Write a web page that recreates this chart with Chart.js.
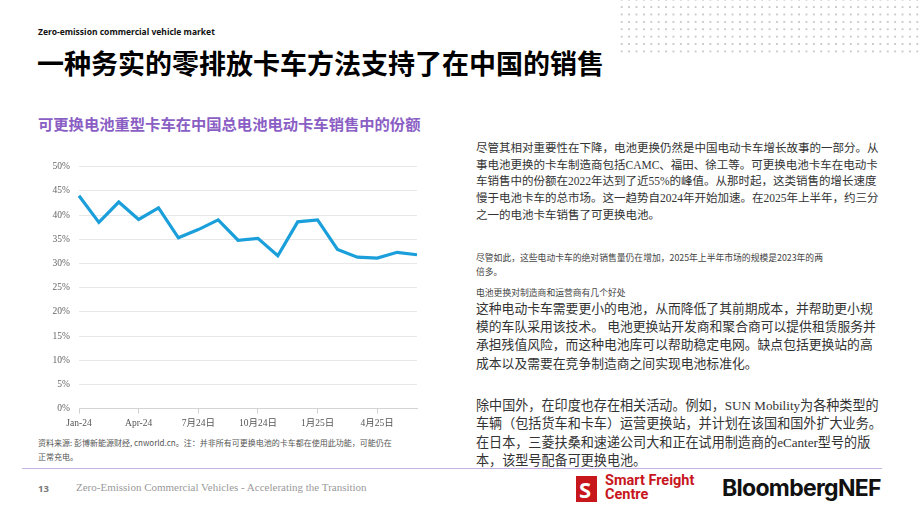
<!DOCTYPE html>
<html>
<head>
<meta charset="utf-8">
<script src="https://cdn.jsdelivr.net/npm/chart.js@4"></script>
<style>
  body { margin: 0; width: 920px; height: 518px; background: #fff; position: relative; overflow: hidden;
         font-family: "Noto Sans CJK SC", "Noto Sans", sans-serif; }
  .abs { position: absolute; white-space: nowrap; }
  .dots { position: absolute; left: 618px; top: -4px; width: 304px; height: 60px;
          background-image: radial-gradient(circle, #c8c8c8 0.8px, transparent 1.2px);
          background-size: 7.4px 7.4px; }
  .serif { font-family: "Liberation Serif", "Noto Sans CJK SC", serif; }
  .para { position: absolute; left: 476px; width: 410px; color: #333; }
</style>
</head>
<body>
<div class="dots"></div>
<div class="abs" style="left:38px;top:26px;font-size:8.5px;font-weight:700;color:#111;font-family:'Noto Sans',sans-serif;">Zero-emission commercial vehicle market</div>
<div class="abs" style="left:37px;top:45px;font-size:27px;font-weight:700;color:#000;line-height:36px;">一种务实的零排放卡车方法支持了在中国的销售</div>
<div class="abs" style="left:38px;top:112px;font-size:15.3px;font-weight:700;color:#8a5ec4;line-height:22px;">可更换电池重型卡车在中国总电池电动卡车销售中的份额</div>

<div style="position:absolute;left:30px;top:152px;width:400px;height:281px;"><canvas id="shareChart"></canvas></div>

<div class="abs" style="left:38px;top:436px;font-size:8px;line-height:14px;color:#555;">资料来源: 彭博新能源财经, cnworld.cn。注：并非所有可更换电池的卡车都在使用此功能，可能仍在<br>正常充电。</div>

<div class="para serif" style="top:140px;font-size:11.5px;line-height:16.7px;white-space:normal;width:406px;">尽管其相对重要性在下降，电池更换仍然是中国电动卡车增长故事的一部分。从事电池更换的卡车制造商包括CAMC、福田、徐工等。可更换电池卡车在电动卡车销售中的份额在2022年达到了近55%的峰值。从那时起，这类销售的增长速度慢于电池卡车的总市场。这一趋势自2024年开始加速。在2025年上半年，约三分之一的电池卡车销售了可更换电池。</div>
<div class="abs" style="left:476px;top:251px;font-size:8.8px;line-height:13.5px;color:#444;">尽管如此，这些电动卡车的绝对销售量仍在增加，2025年上半年市场的规模是2023年的两<br>倍多。</div>
<div class="abs" style="left:476px;top:286px;font-size:8.8px;color:#444;">电池更换对制造商和运营商有几个好处</div>
<div class="para serif" style="top:300px;font-size:12.8px;line-height:18.2px;white-space:normal;width:400px;">这种电动卡车需要更小的电池，从而降低了其前期成本，并帮助更小规模的车队采用该技术。 电池更换站开发商和聚合商可以提供租赁服务并承担残值风险，而这种电池库可以帮助稳定电网。缺点包括更换站的高成本以及需要在竞争制造商之间实现电池标准化。</div>
<div class="para serif" style="top:397px;font-size:13.1px;line-height:18.4px;white-space:normal;width:412px;">除中国外，在印度也存在相关活动。例如，SUN Mobility为各种类型的车辆（包括货车和卡车）运营更换站，并计划在该国和国外扩大业务。在日本，三菱扶桑和速递公司大和正在试用制造商的eCanter型号的版本，该型号配备可更换电池。</div>

<div style="position:absolute;left:22px;top:468px;width:860px;height:1px;background:#c6b2e2;"></div>
<div class="abs" style="left:38px;top:482px;font-size:9.5px;font-weight:700;color:#777;font-family:'Noto Sans',sans-serif;">13</div>
<div class="abs serif" style="left:76px;top:481px;font-size:11px;color:#9a9a9a;">Zero-Emission Commercial Vehicles - Accelerating the Transition</div>

<div style="position:absolute;left:576px;top:476px;width:21px;height:26px;background:#c8161d;"></div>
<div class="abs" style="left:579px;top:478px;font-size:22px;font-weight:700;color:#fff;line-height:22px;font-family:'Noto Sans',sans-serif;">S</div>
<div class="abs" style="left:605px;top:474px;font-size:14.5px;font-weight:700;color:#c8161d;line-height:13.5px;font-family:Roboto,'Noto Sans',sans-serif;">Smart Freight<br>Centre</div>
<div class="abs" style="left:722px;top:474px;font-size:23px;font-weight:700;color:#111;letter-spacing:-0.7px;font-family:Inter,Roboto,sans-serif;">BloombergNEF</div>

<script>
const months = ['2024-01', '2024-02', '2024-03', '2024-04', '2024-05', '2024-06',
                '2024-07', '2024-08', '2024-09', '2024-10', '2024-11', '2024-12',
                '2025-01', '2025-02', '2025-03', '2025-04', '2025-05', '2025-06'];
const tickLabels = ['Jan-24', 'Apr-24', '7月24日', '10月24日', '1月25日', '4月25日'];
const swapShare = [44.0, 38.5, 42.7, 39.1, 41.5, 35.3, 37.0, 39.0, 34.8,
                   35.2, 31.6, 38.6, 39.0, 32.9, 31.3, 31.1, 32.3, 31.8];
const yTicks = [0, 5, 10, 15, 20, 25, 30, 35, 40, 45, 50];

const tickFont = { family: '"Liberation Serif", "Noto Sans CJK SC", serif', size: 9.5 };

const ctx = document.getElementById('shareChart').getContext('2d');
new Chart(ctx, {
    type: 'line',
    data: {
        labels: months,
        datasets: [{
            label: 'Share',
            data: swapShare,
            borderColor: '#1a9fdb',
            borderWidth: 3.2,
            pointRadius: 0,
            tension: 0,
            fill: false
        }]
    },
    options: {
        responsive: true,
        maintainAspectRatio: false,
        animation: false,
        layout: { padding: { top: 10, right: 13, left: 0, bottom: 0 } },
        plugins: { legend: { display: false }, tooltip: { enabled: false } },
        scales: {
            x: {
                offset: false,
                afterBuildTicks: s => { s.ticks = s.ticks.filter(t => t.value % 3 === 0); },
                ticks: {
                    autoSkip: false,
                    maxRotation: 0,
                    padding: 4,
                    color: '#555',
                    font: tickFont,
                    callback: (v) => tickLabels[v / 3]
                },
                grid: { drawOnChartArea: false, drawTicks: true, tickLength: 5, color: '#cfcfcf' },
                border: { color: '#d4d4d4' }
            },
            y: {
                min: 0,
                max: 50,
                afterBuildTicks: s => { s.ticks = yTicks.map(v => ({ value: v })); },
                afterFit: s => { s.width = 49; },
                ticks: {
                    padding: 9,
                    color: '#666',
                    font: tickFont,
                    callback: v => v + '%'
                },
                grid: { color: '#e8e8e8', drawTicks: false },
                border: { display: false }
            }
        }
    }
});
</script>
</body>
</html>
